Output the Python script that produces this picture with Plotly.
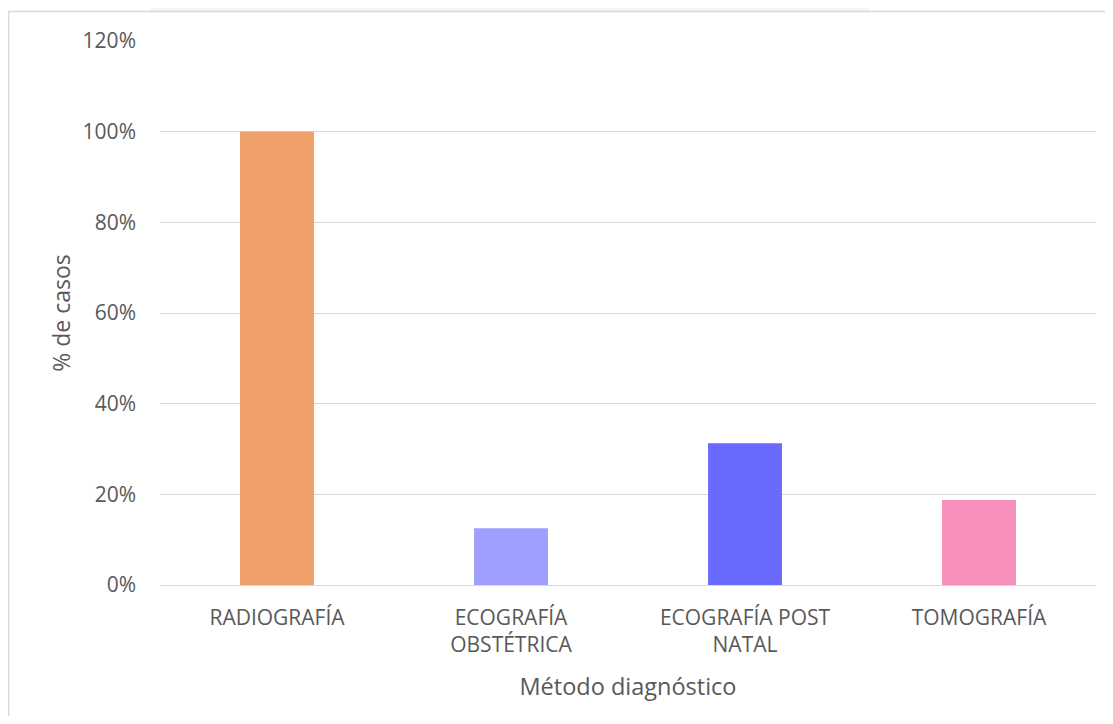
import plotly.graph_objects as go

categories = ["RADIOGRAFÍA", "ECOGRAFÍA<br>OBSTÉTRICA", "ECOGRAFÍA POST<br>NATAL", "TOMOGRAFÍA"]
values = [1.0, 0.125, 0.3125, 0.1875]
colors = ["#F0A06A", "#9F9FFF", "#6A6AFF", "#F78FBD"]
y_ticks = [0, 0.2, 0.4, 0.6, 0.8, 1.0, 1.2]
y_ticklabels = ["0%", "20%", "40%", "60%", "80%", "100%", "120%"]

# page body has an 8px margin; figure sized to fit the window
W, H = 1097, 708
L, R, T, B = 152, 9, 33, 131
pw, ph = W - L - R, H - T - B

def px(x):
    return (x - L) / pw

def py(y):
    return (H - B - y) / ph

fig = go.Figure(go.Bar(x=categories, y=values, marker=dict(color=colors, line=dict(width=0)),
                       width=0.316))

fig.update_layout(
    width=W, height=H,
    margin=dict(l=L, r=R, t=T, b=B),
    paper_bgcolor="white", plot_bgcolor="white",
    font=dict(family="Open Sans, sans-serif", size=21, color="#595959"),
    showlegend=False,
    xaxis=dict(title=dict(text="Método diagnóstico", font=dict(size=23.5), standoff=21),
               showgrid=False, showline=False, ticks="", tickfont=dict(size=21),
               ticklabelstandoff=18),
    yaxis=dict(title=dict(text="% de casos", font=dict(size=23), standoff=5),
               range=[0, 1.2], tickvals=y_ticks, ticktext=y_ticklabels,
               showgrid=True, gridcolor="#D9D9D9", gridwidth=1.3,
               zeroline=True, zerolinecolor="#D9D9D9", zerolinewidth=1.3,
               showline=False, ticks="", ticklabelstandoff=23, tickfont=dict(size=21)),
    shapes=[
        dict(type="rect", xref="paper", yref="paper",
             x0=px(142), x1=px(862), y0=py(3), y1=py(0),
             fillcolor="#F7F6F1", line=dict(width=0), layer="below"),
        dict(type="rect", xref="paper", yref="paper",
             x0=px(0.7), x1=px(1110), y0=py(730), y1=py(3.5),
             fillcolor="rgba(0,0,0,0)", line=dict(color="#D9D9D9", width=1.3)),
    ],
)

fig.write_html("out.html")
